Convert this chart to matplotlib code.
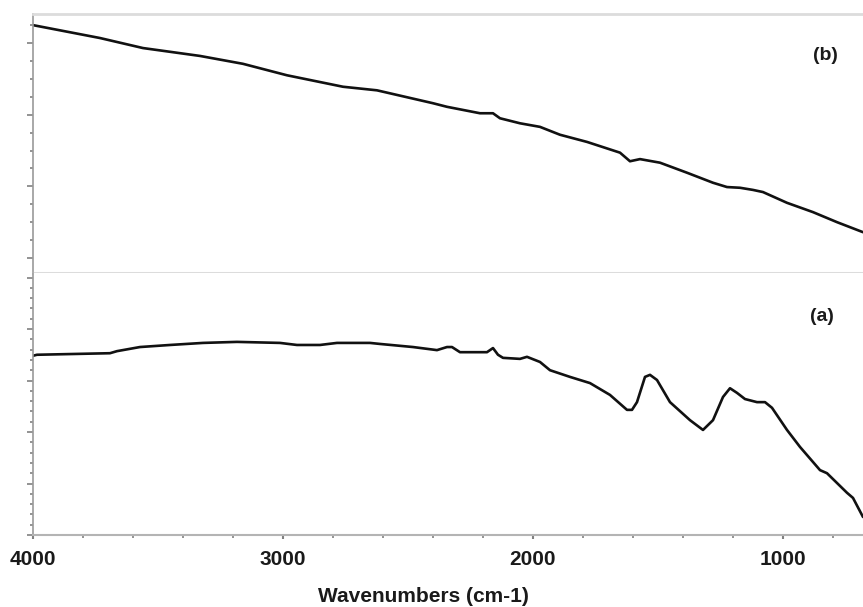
import matplotlib
matplotlib.use("Agg")
import matplotlib.pyplot as plt
from matplotlib.ticker import MultipleLocator

# spectrum (b), wavenumber in cm-1 and transmittance (arb. %T)
wn_b = [4000, 3732, 3560, 3332, 3160, 2984, 2760, 2624, 2400, 2344, 2212, 2160,
        2132, 2052, 1972, 1892, 1784, 1652, 1612, 1572, 1492, 1384, 1280, 1224,
        1172, 1120, 1080, 984, 880, 784, 680]
t_b = [52.5, 50.7, 49.3, 48.2, 47.1, 45.5, 43.9, 43.4, 41.6, 41.1, 40.2, 40.2,
       39.5, 38.8, 38.3, 37.2, 36.2, 34.7, 33.5, 33.8, 33.3, 31.9, 30.5, 29.9,
       29.8, 29.5, 29.2, 27.7, 26.4, 25.0, 23.6]

# spectrum (a)
wn_a = [4000, 3984, 3692, 3664, 3572, 3452, 3320, 3184, 3012, 2944, 2852, 2784,
        2652, 2612, 2480, 2384, 2344, 2324, 2292, 2184, 2160, 2140, 2120, 2052,
        2024, 1972, 1932, 1852, 1772, 1692, 1624, 1604, 1584, 1552, 1532, 1504,
        1452, 1372, 1320, 1280, 1240, 1212, 1184, 1152, 1104, 1072, 1044, 984,
        932, 852, 824, 744, 720, 680]
t_a = [34.8, 35.0, 35.3, 35.7, 36.5, 36.9, 37.3, 37.5, 37.3, 36.9, 36.9, 37.3,
       37.3, 37.1, 36.5, 35.9, 36.5, 36.5, 35.5, 35.5, 36.3, 35.0, 34.4, 34.2,
       34.6, 33.6, 32.0, 30.7, 29.5, 27.2, 24.3, 24.3, 25.8, 30.7, 31.1, 30.1,
       25.8, 22.3, 20.4, 22.3, 26.8, 28.5, 27.6, 26.4, 25.8, 25.8, 24.7, 20.4,
       17.1, 12.6, 12.0, 8.2, 7.2, 3.5]

x_ticks = [4000, 3000, 2000, 1000]

plt.rcParams['font.family'] = ['Liberation Sans', 'DejaVu Sans']

fig = plt.figure(figsize=(8.63, 6.07), dpi=100)
ax_b = fig.add_axes([0.0382, 0.5502, 0.9618, 0.4267])
ax_a = fig.add_axes([0.0382, 0.1186, 0.9618, 0.4316], sharex=ax_b)

light = '#dcdcdc'
mid = '#b4b4b4'

for ax in (ax_a, ax_b):
    ax.spines['right'].set_visible(False)
    ax.spines['left'].set_color('#9a9a9a')
    ax.spines['left'].set_linewidth(1.2)
    ax.spines['top'].set_color(light)
    ax.spines['top'].set_linewidth(2)
    ax.tick_params(axis='y', which='both', direction='out', colors='#808080',
                   labelleft=False)
    ax.tick_params(axis='y', which='major', length=4, width=1.2)
    ax.tick_params(axis='y', which='minor', length=2, width=1.2)

ax_b.plot(wn_b, t_b, color='#111111', lw=1.9, solid_joinstyle='round',
          solid_capstyle='round')
ax_a.plot(wn_a, t_a, color='#111111', lw=1.9, solid_joinstyle='round',
          solid_capstyle='round')

ax_b.set_xlim(4000, 680)
ax_b.set_ylim(17.9, 54.05)
ax_a.set_ylim(0, 50.87)

ax_b.yaxis.set_major_locator(MultipleLocator(10))
ax_b.yaxis.set_minor_locator(MultipleLocator(2.5))
ax_a.yaxis.set_major_locator(MultipleLocator(10))
ax_a.yaxis.set_minor_locator(MultipleLocator(2))

ax_b.spines['bottom'].set_color(light)
ax_b.spines['bottom'].set_linewidth(2.2)
ax_b.tick_params(axis='x', which='both', bottom=False, labelbottom=False)

ax_a.spines['top'].set_visible(False)
ax_a.spines['bottom'].set_color(mid)
ax_a.spines['bottom'].set_linewidth(1.5)
ax_a.set_xticks(x_ticks)
ax_a.xaxis.set_minor_locator(MultipleLocator(200))
ax_a.tick_params(axis='x', which='both', direction='out', colors='#808080',
                 labelcolor='#1a1a1a', labelsize=15, pad=8)
ax_a.tick_params(axis='x', which='major', length=3, width=1.5)
ax_a.tick_params(axis='x', which='minor', length=2, width=1.2)
for lab in ax_a.get_xticklabels():
    lab.set_fontweight('bold')

ax_b.text(0.955, 0.838, '(b)', transform=ax_b.transAxes, fontsize=14,
          fontweight='bold', color='#1a1a1a', ha='center', va='center')
ax_a.text(0.950, 0.834, '(a)', transform=ax_a.transAxes, fontsize=14,
          fontweight='bold', color='#1a1a1a', ha='center', va='center')

fig.text(0.491, 0.0165, 'Wavenumbers (cm-1)', fontsize=15, fontweight='bold',
         color='#1a1a1a', ha='center', va='center')

fig.savefig('out.png', dpi=100)
